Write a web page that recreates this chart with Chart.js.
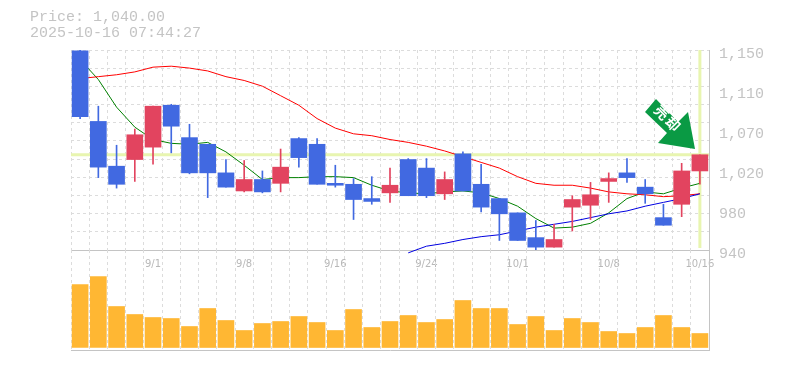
<!DOCTYPE html>
<html>
<head>
<meta charset="utf-8">
<style>
body{margin:0;background:#fff;width:785px;height:370px;overflow:hidden;position:relative;}
canvas{position:absolute;left:0;}
#priceChart{top:0;}
#volumeChart{top:250px;}
#info{position:absolute;left:30px;top:10px;font:15px/15.5px "Liberation Mono",monospace;color:#c4c4c4;white-space:pre;}
#arrow{position:absolute;left:640px;top:90px;}
</style>
<script src="https://cdn.jsdelivr.net/npm/chart.js@4"></script>
</head>
<body>
<canvas id="priceChart" width="785" height="275"></canvas>
<canvas id="volumeChart" width="785" height="120"></canvas>
<div id="info">Price: 1,040.00
2025-10-16 07:44:27</div>
<svg id="arrow" width="70" height="70">
  <polygon points="16,9 5,22 27,43 18,53 55,59 48,22 38,32" fill="#0a9a44"/>
  <text x="27" y="30" transform="rotate(45 27 30)" text-anchor="middle" dominant-baseline="middle" font-family="Noto Sans CJK JP" font-size="14" font-weight="700" letter-spacing="2" fill="#fff">売却</text>
</svg>
<script>
// ================= DATA =================
const categories = ["8/26","8/27","8/28","8/29","9/1","9/2","9/3","9/4","9/5","9/8","9/9","9/10","9/11","9/12","9/16","9/17","9/18","9/19","9/22","9/24","9/25","9/26","9/29","9/30","10/1","10/2","10/3","10/6","10/7","10/8","10/9","10/10","10/14","10/15","10/16"];
const tickLabels = ["9/1","9/8","9/16","9/24","10/1","10/8","10/16"];

const opens  = [1149,1075,1028,1035,1048,1092,1058,1051,1021,1002,1014,1010,1057,1051,1010,1009,994,1000,1035,1026,999,1041,1009,994,979,953,943,985,987,1012,1021,1006,974,988,1023];
const closes = [1080,1027,1009,1061,1091,1070,1021,1021,1006,1014,1001,1027,1037,1009,1008,993,991,1008,997,997,1014,1002,985,978,950,943,951,993,998,1015,1016,999,966,1023,1040];
const highs  = [1150,1091,1050,1067,1091,1093,1072,1051,1035,1034,1023,1046,1058,1057,1029,1015,1017,1026,1036,1036,1022,1043,1030,994,979,971,967,997,1011,1021,1036,1014,988,1031,1040];
const lows   = [1078,1016,1005,1012,1030,1042,1020,995,1006,1001,1000,1001,1027,1009,1006,972,988,990,997,995,993,1002,980,950,950,940,943,960,972,990,1011,989,966,975,1009];

const maShort = [1140,1119,1090,1069,1056,1052,1051,1053,1043,1029,1014,1016,1016,1017,1017,1016,1008,1002,1000,999,1001,1002,1000,994,986,973,963,964,968,979,994,1001,999,1005,1010];
const maMid   = [1120,1122,1124,1127,1132,1133,1131,1128,1122,1118,1112,1102,1092,1078,1068,1062,1060,1056,1053,1049,1044,1038,1032,1026,1017,1010,1008,1008,1005,1001,999,998,996,997,999];
const maLong  = [null,null,null,null,null,null,null,null,null,null,null,null,null,null,null,null,null,null,937,944,947,951,954,956,960,964,967,970,974,978,981,986,990,994,999];

const volumes = [63,71,41,33,30,29,21,39,27,17,24,26,31,25,17,38,20,26,32,25,28,47,39,39,23,31,17,29,25,16,14,20,32,20,14];

const priceMin = 940, priceMax = 1150, priceStep = 42;
const lastPrice = 1040;

// ================= STYLE =================
const UP = "#e2445f", DOWN = "#4169e1", VOL = "#ffb733";
const GRID = "#dcdcdc", AXIS = "#c4c4c4", TEXT = "#c4c4c4", MARK = "#e8f5b0";
const MONO = {family:"'Liberation Mono',monospace", size:15};
const candleColors = opens.map((o,i)=> closes[i]>=o ? UP : DOWN);

// pale cross at the latest price, under the candles
const priceCross = {
  id:"priceCross",
  beforeDatasetsDraw(chart){
    const {ctx,chartArea:a,scales} = chart;
    const y = scales.y.getPixelForValue(lastPrice);
    const x = scales.x.getPixelForValue(categories.length-1);
    ctx.save();
    ctx.strokeStyle = MARK; ctx.lineWidth = 3;
    ctx.beginPath();
    ctx.moveTo(a.left,y); ctx.lineTo(a.right,y);
    ctx.moveTo(x,a.top); ctx.lineTo(x,a.bottom-2);
    ctx.stroke();
    ctx.restore();
  }
};

function lineSet(data,color){
  return {type:"line",data,borderColor:color,borderWidth:1,pointRadius:0,tension:0,order:5,clip:false,spanGaps:false};
}
const xGrid = {color:GRID,lineWidth:1,drawTicks:false,offset:true};

// ================= PRICE CHART =================
new Chart(document.getElementById("priceChart"),{
  type:"bar",
  data:{
    labels:categories,
    datasets:[
      lineSet(maLong,"#0000e0"),
      lineSet(maMid,"#ff0000"),
      lineSet(maShort,"#008000"),
      {data:lows.map((l,i)=>[l,highs[i]]),backgroundColor:candleColors,barThickness:1,grouped:false,order:2},
      {data:opens.map((o,i)=>[o,closes[i]]),backgroundColor:candleColors,barThickness:16,grouped:false,order:1}
    ]
  },
  plugins:[priceCross],
  options:{
    responsive:false,animation:false,
    layout:{padding:{left:71,top:50,right:0,bottom:0}},
    plugins:{legend:{display:false},tooltip:{enabled:false}},
    scales:{
      x:{
        grid:xGrid,
        border:{color:AXIS,dash:[3,3]},
        ticks:{
          autoSkip:false,maxRotation:0,padding:8,color:"#b8b8b8",
          font:{family:"'DejaVu Sans',sans-serif",size:10},
          callback(v){const c=categories[v];return tickLabels.includes(c)?c:"";}
        },
        afterFit(s){s.height=25;}
      },
      y:{
        position:"right",min:priceMin,max:priceMax,
        grid:{display:false},
        border:{color:AXIS},
        ticks:{
          stepSize:priceStep,padding:2,labelOffset:4,color:TEXT,font:MONO,
          callback(v){return (Math.round(v/10)*10).toLocaleString("en-US");}
        },
        afterFit(s){s.width=76;}
      },
      gridY:{
        position:"left",min:0,max:11,
        grid:{color:GRID,drawTicks:false},
        border:{display:false,dash:[3,3]},
        ticks:{display:false,stepSize:1},
        afterFit(s){s.width=0;}
      }
    }
  }
});

// ================= VOLUME CHART =================
new Chart(document.getElementById("volumeChart"),{
  type:"bar",
  data:{labels:categories,datasets:[{data:volumes,backgroundColor:VOL,barThickness:16}]},
  options:{
    responsive:false,animation:false,
    layout:{padding:{left:71,top:0,right:0,bottom:0}},
    plugins:{legend:{display:false},tooltip:{enabled:false}},
    scales:{
      x:{
        grid:xGrid,
        border:{color:AXIS,dash:[3,3]},
        ticks:{display:false},
        afterFit(s){s.height=20;}
      },
      y:{
        position:"right",min:-2.5,max:97.5,
        grid:{display:false},
        border:{color:AXIS},
        ticks:{display:false},
        afterFit(s){s.width=76;}
      }
    }
  }
});
</script>
</body>
</html>
